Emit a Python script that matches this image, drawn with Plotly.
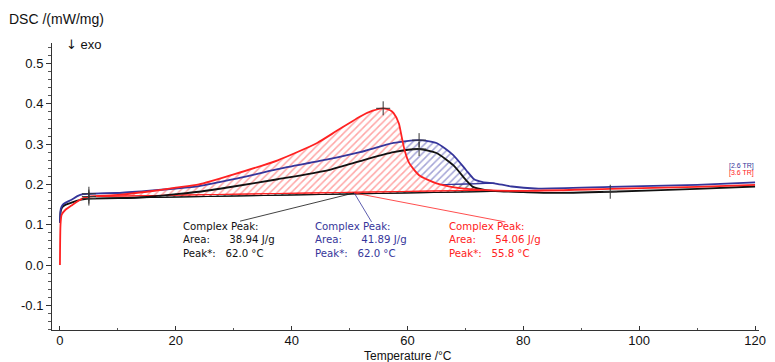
import plotly.graph_objects as go

# ---------------- data ----------------
T_black = [0, 0.15, 0.5, 1, 2, 3, 4, 5, 10, 15, 20, 24, 30, 37.6, 46.2, 51.8, 57.6, 62, 65, 67.9, 70.1, 71.3, 73.5, 76, 80, 85, 95, 110, 120]
DSC_black = [0.105, 0.135, 0.145, 0.15, 0.155, 0.16, 0.163, 0.165, 0.166, 0.169, 0.176, 0.182, 0.195, 0.213, 0.235, 0.258, 0.28, 0.288, 0.278, 0.248, 0.211, 0.194, 0.186, 0.183, 0.181, 0.179, 0.182, 0.189, 0.195]

T_blue = [0, 0.15, 0.5, 1, 2, 3, 4, 5, 10, 15, 20, 24, 30, 37.6, 46.2, 51.8, 57.6, 62, 65, 67.9, 70.1, 71.5, 73, 75, 78, 82, 95, 110, 120]
DSC_blue = [0.105, 0.14, 0.15, 0.155, 0.162, 0.171, 0.176, 0.177, 0.179, 0.184, 0.19, 0.196, 0.213, 0.238, 0.262, 0.28, 0.303, 0.31, 0.303, 0.273, 0.236, 0.213, 0.206, 0.203, 0.195, 0.19, 0.194, 0.199, 0.205]

T_red = [0, 0.1, 0.3, 1, 2, 3, 4, 5, 10, 15, 20, 24, 30, 37.6, 44.4, 48, 52, 54, 55.8, 57, 57.6, 58.5, 59, 59.5, 60.3, 62, 65, 69, 73.5, 80, 95, 110, 120]
DSC_red = [0.0, 0.1, 0.125, 0.138, 0.148, 0.158, 0.166, 0.17, 0.174, 0.182, 0.192, 0.2, 0.225, 0.26, 0.303, 0.335, 0.37, 0.383, 0.389, 0.384, 0.377, 0.352, 0.318, 0.285, 0.253, 0.223, 0.203, 0.191, 0.186, 0.184, 0.189, 0.194, 0.199]

# peak integration limits (°C)
LIMITS_black = [5, 76]
LIMITS_blue = [5, 75]
LIMITS_red = [5, 73.5]

# "+" markers: temperature and value
PLUS_T_black = [5, 62.0, 95]
PLUS_V_black = [0.165, 0.288, 0.182]
PLUS_T_blue = [5, 62.0]
PLUS_V_blue = [0.177, 0.31]
PLUS_T_red = [5, 55.8]
PLUS_V_red = [0.17, 0.389]

# peak result texts
AREA = ["38.94 J/g", "41.89 J/g", "54.06 J/g"]
PEAK = ["62.0 °C", "62.0 °C", "55.8 °C"]
TR_LABELS = ["[2.6 TR]", "[3.6 TR]"]

Y_TICKS = [-0.1, 0.0, 0.1, 0.2, 0.3, 0.4, 0.5]
Y_TICKTEXT = ["-0.1", "0.0", "0.1", "0.2", "0.3", "0.4", "0.5"]
X_TICKS = [0, 20, 40, 60, 80, 100, 120]

# ---------------- styling ----------------
C_BLACK = "#111111"
C_BLUE = "#35359a"
C_RED = "#ff2121"
HATCH = {"black": "rgba(20,20,20,1)", "blue": "rgba(55,55,165,0.9)", "red": "rgba(255,45,45,0.85)"}

fig = go.Figure()

series = [
    ("black", T_black, DSC_black, LIMITS_black, PLUS_T_black, PLUS_V_black, C_BLACK),
    ("blue", T_blue, DSC_blue, LIMITS_blue, PLUS_T_blue, PLUS_V_blue, C_BLUE),
    ("red", T_red, DSC_red, LIMITS_red, PLUS_T_red, PLUS_V_red, C_RED),
]

# hatched peak areas + baselines
for name, T, D, lim, pt, pv, col in series:
    t0, t1 = lim
    seg = [(t, d) for t, d in zip(T, D) if t0 <= t <= t1]
    sx = [s[0] for s in seg]
    sy = [s[1] for s in seg]
    fig.add_trace(go.Scatter(
        x=[sx[0], sx[-1]], y=[sy[0], sy[-1]], mode="lines",
        line=dict(width=1, color=col), hoverinfo="skip", showlegend=False))
    fig.add_trace(go.Scatter(
        x=sx, y=sy, mode="lines", fill="tonexty",
        line=dict(width=0, color=col, shape="spline", smoothing=0.6),
        fillcolor="rgba(0,0,0,0)",
        fillpattern=dict(shape="/", fgcolor=HATCH[name], bgcolor="white",
                         size=5, solidity=0.3),
        hoverinfo="skip", showlegend=False))
    fig.add_trace(go.Scatter(
        x=[sx[0], sx[-1]], y=[sy[0], sy[-1]], mode="lines",
        line=dict(width=1, color=col), hoverinfo="skip", showlegend=False))

# curves
for name, T, D, lim, pt, pv, col in series:
    fig.add_trace(go.Scatter(
        x=T, y=D, mode="lines",
        line=dict(width=1.8, color=col, shape="spline", smoothing=0.6),
        showlegend=False))

# "+" markers
for name, T, D, lim, pt, pv, col in series:
    fig.add_trace(go.Scatter(
        x=pt, y=pv, mode="markers",
        marker=dict(symbol="cross-thin", size=10, line=dict(width=1, color="#333333")),
        showlegend=False, hoverinfo="skip"))

# leader lines for the peak labels
LEAD_FROM_T = [31.1, 53.8, 76.9]
LEAD_FROM_Y = [0.109, 0.107, 0.107]
LEAD_TO = (50.8, 0.179)
for i, col in enumerate([C_BLACK, C_BLUE, C_RED]):
    fig.add_shape(type="line", x0=LEAD_FROM_T[i], y0=LEAD_FROM_Y[i],
                  x1=LEAD_TO[0], y1=LEAD_TO[1], line=dict(color=col, width=0.8))

# peak text blocks
TXT_X = [20.85, 43.6, 66.9]      # left edge of text (°C)
BLOCK_Y = 0.0633
SP = "&nbsp;"
for i, col in enumerate([C_BLACK, C_BLUE, C_RED]):
    txt = ("Complex Peak:<br>Area:" + SP * 6 + AREA[i] +
           "<br>Peak*:" + SP * 3 + PEAK[i])
    fig.add_annotation(x=TXT_X[i], y=BLOCK_Y, text=txt, showarrow=False, align="left",
                       xanchor="left", yanchor="middle",
                       font=dict(family="DejaVu Sans", size=10.2, color=col))

# TR labels at right end
fig.add_annotation(x=120.1, y=0.245, text=TR_LABELS[0], showarrow=False, xanchor="right",
                   yanchor="middle", font=dict(family="Liberation Sans", size=7, color=C_BLUE))
fig.add_annotation(x=120.1, y=0.229, text=TR_LABELS[1], showarrow=False, xanchor="right",
                   yanchor="middle", font=dict(family="Liberation Sans", size=7, color=C_RED))

# titles
fig.add_annotation(xref="paper", yref="paper", x=-0.063, y=1.0836, text="DSC /(mW/mg)",
                   showarrow=False, xanchor="left", yanchor="middle",
                   font=dict(family="Liberation Sans", size=14, color="#111111"))
fig.add_annotation(xref="paper", yref="paper", x=0.0165, y=0.996,
                   text="<span style='font-family:DejaVu Sans'>↓</span> exo",
                   showarrow=False, xanchor="left", yanchor="middle",
                   font=dict(family="Liberation Sans", size=13, color="#111111"))
fig.add_annotation(xref="paper", yref="paper", x=0.504, y=-0.0895, text="Temperature /°C",
                   showarrow=False, xanchor="center", yanchor="middle", borderpad=0,
                   font=dict(family="Liberation Sans", size=12, color="#111111"))

fig.update_layout(
    width=775, height=362,
    margin=dict(l=52, r=9, t=43, b=32),
    paper_bgcolor="white", plot_bgcolor="white",
    font=dict(family="Liberation Sans", size=13, color="#111111"),
    xaxis=dict(range=[-1.37, 120.68], tickvals=X_TICKS, showgrid=False, zeroline=False,
               showline=True, linecolor="#333333", linewidth=1,
               ticks="inside", ticklen=4, tickcolor="#333333",
               ticklabelstandoff=-2,
               minor=dict(dtick=10, ticks="inside", ticklen=2, tickcolor="#555555"),
               tickfont=dict(size=13)),
    yaxis=dict(range=[-0.161, 0.551], tickvals=Y_TICKS, ticktext=Y_TICKTEXT,
               showgrid=False, zeroline=False,
               showline=True, linecolor="#333333", linewidth=1,
               ticks="outside", ticklen=5, tickcolor="#333333",
               minor=dict(dtick=0.02, tick0=0, ticks="outside", ticklen=3, tickcolor="#555555"),
               tickfont=dict(size=13)),
)

fig.write_html("out.html")
